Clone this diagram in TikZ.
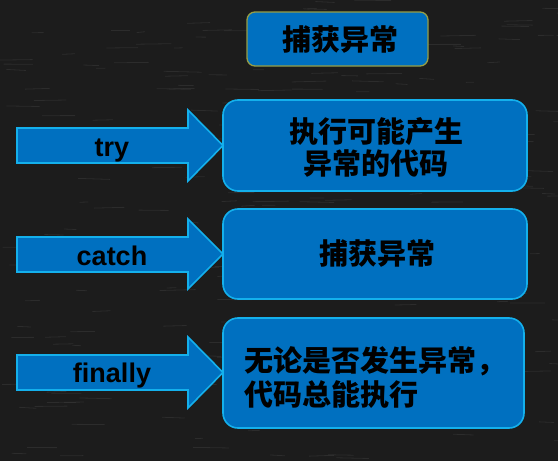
\documentclass[tikz,border=0pt]{standalone}
\usepackage{fontspec}
\setmainfont{Liberation Sans}
\newfontfamily\cjk{Noto Sans CJK SC}
\definecolor{bgdark}{RGB}{28,28,28}
\definecolor{boxblue}{RGB}{0,112,192}
\definecolor{edgecyan}{RGB}{20,176,236}
\definecolor{olive}{RGB}{150,158,70}
\tikzset{
  boxstyle/.style={draw=edgecyan, line width=1.6pt, fill=boxblue, rounded corners=15pt, inner sep=0pt},
  titlestyle/.style={draw=olive, line width=1.3pt, fill=boxblue, rounded corners=8pt, inner sep=0pt, minimum width=181pt, minimum height=54pt},
  arrowstyle/.style={draw=edgecyan, line width=1.6pt, fill=boxblue, line join=miter},
  cjktext/.style={font=\cjk\bfseries\fontsize{29}{32}\selectfont, text=black, inner sep=0pt},
  labeltext/.style={font=\bfseries\fontsize{27}{30}\selectfont, text=black, inner sep=0pt},
  chalk/.style={white, opacity=0.07, line width=0.8pt}
}
\begin{document}
\begin{tikzpicture}[x=1pt, y=-1pt]
\useasboundingbox (0,0) rectangle (558,461);
\fill[bgdark] (0,0) rectangle (558,461);
% faint chalkboard texture
\pgfmathsetseed{7}
\foreach \i in {1,...,260} {
  \pgfmathsetmacro{\xx}{rnd*558}
  \pgfmathsetmacro{\yy}{rnd*461}
  \pgfmathsetmacro{\ll}{8+rnd*30}
  \draw[chalk] (\xx,\yy) -- ++(\ll,rnd*2-1);
}

% title
\node[titlestyle] (title) at (337.5,39) {};
\node[cjktext] (titletext) at (340,40) {捕获异常};

% boxes
\node[boxstyle, minimum width=304pt, minimum height=91pt] (box1) at (375,145.5) {};
\node[boxstyle, minimum width=304pt, minimum height=90pt] (box2) at (375,254) {};
\node[boxstyle, minimum width=301pt, minimum height=110pt] (box3) at (373.5,373) {};

\node[cjktext, align=center] (t1) at (376,147) {执行可能产生\\异常的代码};
\node[cjktext] (t2) at (377,254) {捕获异常};
\node[cjktext, align=left, anchor=west, font=\cjk\bfseries\fontsize{29}{34}\selectfont] (t3) at (244,377) {无论是否发生异常，\\代码总能执行};

% arrows
\draw[arrowstyle] (17,128) -- (188,128) -- (188,110) -- (223,145.5) -- (188,181) -- (188,163) -- (17,163) -- cycle;
\draw[arrowstyle] (17,237) -- (188,237) -- (188,219) -- (223,254) -- (188,289) -- (188,272) -- (17,272) -- cycle;
\draw[arrowstyle] (17,355) -- (188,355) -- (188,337) -- (223,372.5) -- (188,408) -- (188,390) -- (17,390) -- cycle;

\node[labeltext] (ltry) at (112,150) {try};
\node[labeltext] (lcatch) at (112,256) {catch};
\node[labeltext] (lfinally) at (112,376) {finally};
\end{tikzpicture}
\end{document}
